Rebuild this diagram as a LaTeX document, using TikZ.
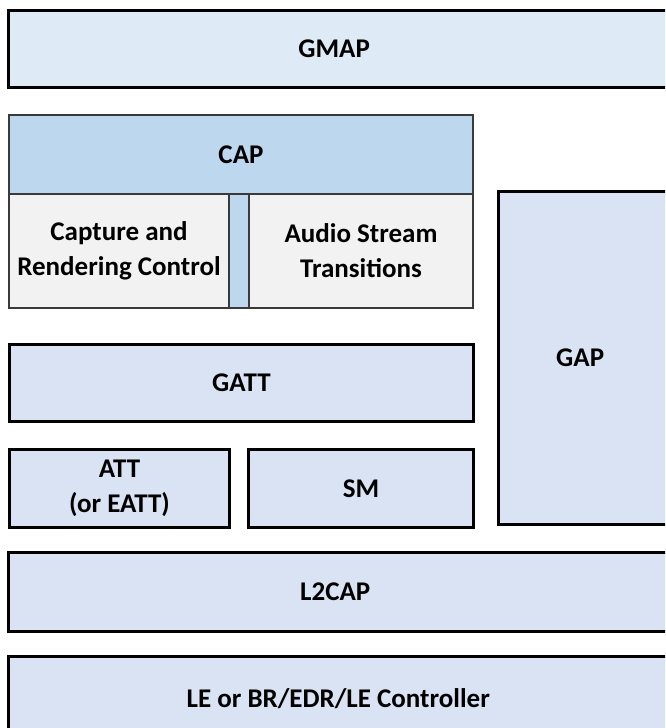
\documentclass[tikz,border=0pt]{standalone}
\usepackage{fontspec}
\setmainfont{Carlito}
\begin{document}
\begin{tikzpicture}[x=1pt,y=-1pt,
  lbl/.style={font=\fontsize{27}{35}\selectfont\bfseries, align=center, text=black},
  blk/.style={lbl, draw=black, line width=3pt, inner sep=0pt, anchor=north west, fill=layerfill},
  openblk/.style={lbl, inner sep=0pt, anchor=north west, fill=layerfill},
  edge/.style={draw=black, line width=3pt, line join=miter},
  capb/.style={lbl, draw=capline, line width=2pt, inner sep=0pt, anchor=north west}
]
\definecolor{gmapfill}{HTML}{DEEBF7}
\definecolor{capfill}{HTML}{BDD7EE}
\definecolor{subfill}{HTML}{F2F2F2}
\definecolor{layerfill}{HTML}{DAE3F3}
\definecolor{capline}{HTML}{3A3A3A}
\useasboundingbox (0,0) rectangle (665,728);
\clip (0,0) rectangle (665,728);
\fill[white] (0,0) rectangle (665,728);

\node[openblk, fill=gmapfill, minimum width=660pt, minimum height=77pt] (gmap) at (8,10) {\hspace*{-8pt}GMAP};
\draw[edge] ([xshift=20pt]gmap.north east) -- (gmap.north west) -- (gmap.south west) -- ([xshift=20pt]gmap.south east);

\node[capb, fill=capfill, minimum width=20pt, minimum height=114pt] (stem) at (228,193) {};
\node[capb, fill=subfill, minimum width=220pt, minimum height=114pt] (crc) at (8,193) {Capture and\\Rendering Control};
\node[capb, fill=subfill, minimum width=224pt, minimum height=114pt] (ast) at (248,193) {Audio Stream\\Transitions};
\node[capb, fill=capfill, minimum width=464pt, minimum height=79pt] (cap) at (8,114) {CAP};

\node[blk, minimum width=464pt, minimum height=77pt] (gatt) at (8,343) {GATT};
\node[blk, minimum width=220pt, minimum height=78pt] (att) at (8,448) {ATT\\(or EATT)};
\node[blk, minimum width=225pt, minimum height=78pt] (sm) at (247,448) {SM};

\node[openblk, minimum width=170pt, minimum height=333pt] (gap) at (498,191) {\hspace*{-6pt}GAP};
\draw[edge] ([xshift=20pt]gap.north east) -- (gap.north west) -- (gap.south west) -- ([xshift=20pt]gap.south east);

\node[openblk, minimum width=660pt, minimum height=79pt] (l2cap) at (8,552) {\hspace*{-6pt}L2CAP};
\draw[edge] ([xshift=20pt]l2cap.north east) -- (l2cap.north west) -- (l2cap.south west) -- ([xshift=20pt]l2cap.south east);

\node[openblk, minimum width=660pt, minimum height=84pt] (ctrl) at (8,656) {LE or BR/EDR/LE Controller};
\draw[edge] ([xshift=20pt]ctrl.north east) -- (ctrl.north west) -- ([yshift=-20pt]ctrl.south west);
\end{tikzpicture}
\end{document}
